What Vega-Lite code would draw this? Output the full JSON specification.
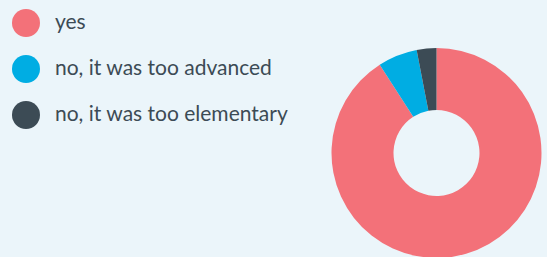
{
  "$schema": "https://vega.github.io/schema/vega-lite/v6.json",
  "width": 221,
  "height": 306,
  "autosize": "none",
  "padding": {"left": 326, "top": 0, "right": 0, "bottom": 0},
  "background": "#ebf5fa",
  "data": {"values": [
    {"answer": "yes", "count": 30},
    {"answer": "no, it was too advanced", "count": 2},
    {"answer": "no, it was too elementary", "count": 1}
  ]},
  "mark": {"type": "arc", "radius": 105, "radius2": 43, "stroke": null},
  "encoding": {
    "theta": {"field": "count", "type": "quantitative", "stack": true},
    "order": {"field": "count", "type": "quantitative", "sort": "descending"},
    "color": {
      "field": "answer",
      "type": "nominal",
      "scale": {
        "domain": ["yes", "no, it was too advanced", "no, it was too elementary"],
        "range": ["#f37179", "#00ade3", "#3c4b55"]
      },
      "legend": {
        "title": null,
        "orient": "none",
        "legendX": -314,
        "legendY": 9,
        "padding": 0,
        "symbolType": "circle",
        "symbolSize": 784,
        "symbolStrokeWidth": 0,
        "symbolOpacity": 1,
        "labelFont": "Lato",
        "labelFontSize": 21,
        "labelColor": "#3c4b55",
        "labelOffset": 15,
        "rowPadding": 18,
        "labelLimit": 400
      }
    }
  },
  "config": {"view": {"stroke": null}}
}
